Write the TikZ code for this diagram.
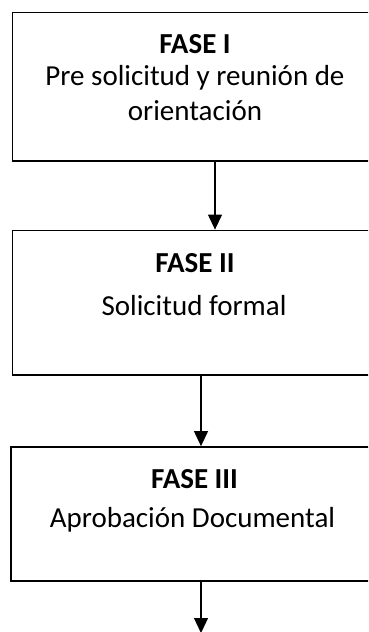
\documentclass[tikz,border=0pt]{standalone}
\usepackage{fontspec}
\setmainfont{Carlito}
\usetikzlibrary{arrows.meta}
\begin{document}
\begin{tikzpicture}[x=1pt,y=-1pt,line width=1.2pt,>={Triangle[length=15pt,width=14pt]},
    fase/.style={draw,line width=1.8pt,minimum width=364pt,inner sep=0pt},
    txt/.style={anchor=base,inner sep=0pt,align=center,font=\fontsize{29}{35}\selectfont}]
    \clip(0,0)rectangle(368,632);
    \node[fase,minimum height=148.5pt](f1)at(194.5,86.75){};
    \node[fase,minimum height=144.5pt](f2)at(194.5,302.75){};
    \node[fase,minimum height=134pt](f3)at(193,514){};
    \node[txt](t1)at(195,53){\bfseries FASE I};
    \node[txt](d1)at(195,120){Pre solicitud y reuni\'on de\\orientaci\'on};
    \node[txt](t2)at(195,272){\bfseries FASE II};
    \node[txt](d2)at(194,315){Solicitud formal};
    \node[txt](t3)at(194.5,488){\bfseries FASE III};
    \node[txt](d3)at(192.5,527){Aprobaci\'on Documental};
    \coordinate(fin)at(201,633);
    \draw[->]([xshift=20.5pt]f1.south)--([xshift=20.5pt]f2.north);
    \draw[->]([xshift=6.5pt]f2.south)--([xshift=8pt]f3.north);
    \draw[->]([xshift=8pt]f3.south)--(fin);
\end{tikzpicture}
\end{document}
